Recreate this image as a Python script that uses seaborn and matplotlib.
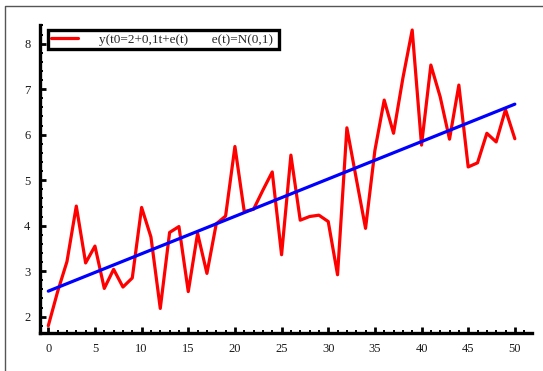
import numpy as np
import pandas as pd
import matplotlib
matplotlib.use("Agg")
import matplotlib.pyplot as plt
import seaborn as sns
from matplotlib.lines import Line2D
from matplotlib.ticker import MultipleLocator

# valores
t = list(range(51))
y_obs = [1.80, 2.55, 3.21, 4.43, 3.18, 3.55, 2.62, 3.04, 2.65, 2.85,
         4.40, 3.75, 2.18, 3.85, 3.98, 2.55, 3.83, 2.95, 4.04, 4.21,
         5.74, 4.31, 4.36, 4.78, 5.18, 3.36, 5.55, 4.12, 4.20, 4.23,
         4.09, 2.92, 6.15, 5.04, 3.94, 5.65, 6.76, 6.03, 7.24, 8.30,
         5.77, 7.53, 6.83, 5.90, 7.09, 5.29, 5.38, 6.03, 5.84, 6.55,
         5.91]
trend_t = [0, 50]
trend_y = [2.56, 6.67]
x_ticks = [0, 5, 10, 15, 20, 25, 30, 35, 40, 45, 50]
y_ticks = [2, 3, 4, 5, 6, 7, 8]
etiqueta = "y(t0=2+0,1t+e(t)       e(t)=N(0,1) "

df = pd.DataFrame({"t": t, "y": y_obs})
df_trend = pd.DataFrame({"t": trend_t, "y": trend_y})

sns.set_style("white")
plt.rcParams["font.family"] = ["Liberation Serif", "DejaVu Serif"]
plt.rcParams["font.size"] = 9

fig = plt.figure(figsize=(5.43, 3.71), dpi=100)
ax = fig.add_axes([40 / 543, 1 - 333 / 371, 492 / 543, 308 / 371])

sns.lineplot(data=df, x="t", y="y", color="#ff0000", linewidth=2.3,
             label=etiqueta, ax=ax)
sns.lineplot(data=df_trend, x="t", y="y", color="#0000ff", linewidth=2.3,
             legend=False, ax=ax)

ax.set_xlim(-0.89, 51.84)
ax.set_ylim(1.64, 8.41)
ax.set_xticks(x_ticks)
ax.set_yticks(y_ticks)
ax.xaxis.set_minor_locator(MultipleLocator(1))
ax.yaxis.set_minor_locator(MultipleLocator(0.2))
ax.tick_params(which="major", direction="in", length=4, width=2, color="black",
               pad=7, labelsize=9, labelcolor="#1a1a1a")
ax.tick_params(which="minor", direction="in", length=2.2, width=1.4, color="black")
ax.tick_params(axis="x", which="both", bottom=True)
ax.tick_params(axis="y", which="both", left=True)
ax.set_xlabel("")
ax.set_ylabel("")

for s in ["top", "right"]:
    ax.spines[s].set_visible(False)
for s in ["left", "bottom"]:
    ax.spines[s].set_color("black")
    ax.spines[s].set_linewidth(2.4)

leg = ax.legend(loc="upper left", bbox_to_anchor=(8 / 492, 1 - 5 / 308),
                fontsize=9.5, handlelength=2.0, handletextpad=1.6,
                borderpad=0.25, borderaxespad=0, fancybox=False, framealpha=1)
leg.get_frame().set_edgecolor("black")
leg.get_frame().set_linewidth(2.4)

# marco exterior (solo arriba e izquierda visibles)
fig.add_artist(Line2D([5 / 543, 5 / 543, 1], [0, 1 - 6 / 371, 1 - 6 / 371],
                      transform=fig.transFigure, color="#555555", linewidth=1))

fig.savefig("out.png", dpi=100)
